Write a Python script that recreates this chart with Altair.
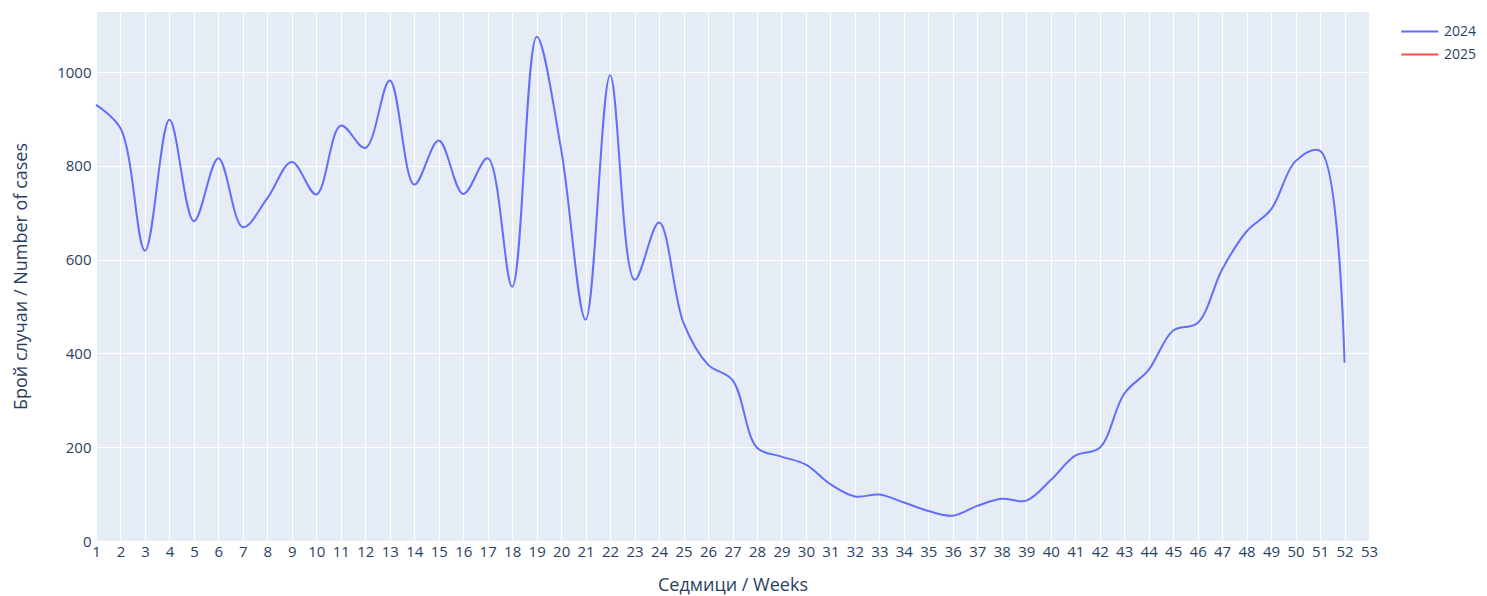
import altair as alt
import pandas as pd

weeks = list(range(1, 53))
cases_2024 = [930, 880, 619, 898, 682, 816, 669, 731, 808, 739,
              886, 838, 982, 760, 854, 740, 816, 542, 1075, 835,
              472, 993, 557, 679, 465, 376, 343, 199, 180, 163,
              121, 95, 99, 82, 64, 54, 75, 90, 86, 130,
              182, 199, 314, 365, 449, 465, 579, 660, 707, 810,
              832, 380]
series = ["2024", "2025"]
colors = ["#636EFA", "#EF553B"]
x_ticks = list(range(1, 54))
y_ticks = [0, 200, 400, 600, 800, 1000]

df = pd.DataFrame({"week": weeks, "cases": cases_2024, "year": ["2024"] * len(weeks)})

FONT = "Open Sans"
TXT = "#2a3f5f"

chart = alt.Chart(df).mark_line(interpolate="catmull-rom", strokeWidth=2).encode(
    x=alt.X("week:Q",
            scale=alt.Scale(domain=[1, 53], nice=False, zero=False),
            axis=alt.Axis(values=x_ticks, title="Седмици / Weeks", labelFlush=False,
                          labelOverlap=False, domain=False, ticks=False, labelPadding=3,
                          labelFontSize=15, titleFontSize=18, titleY=44, titleBaseline="middle",
                          gridColor="white", gridWidth=1)),
    y=alt.Y("cases:Q",
            scale=alt.Scale(domain=[0, 1128], nice=False),
            axis=alt.Axis(values=y_ticks, format="d", title="Брой случаи / Number of cases",
                          domain=False, ticks=False, labelPadding=5, labelFontSize=15,
                          titleFontSize=18, titleX=-75, titleY=264, titleBaseline="middle",
                          titleAlign="center", gridColor="white", gridWidth=1)),
    color=alt.Color("year:N", scale=alt.Scale(domain=series, range=colors),
                    legend=alt.Legend(title=None, orient="none", legendX=1304, legendY=9,
                                      symbolType="M-1,0L3,0", symbolSize=342, symbolStrokeWidth=2,
                                      labelFontSize=14, labelColor=TXT, labelFont=FONT,
                                      rowPadding=5, labelOffset=23)),
).properties(
    width=1273, height=529,
    autosize=alt.AutoSizeParams(type="none"),
    padding={"left": 88, "top": 4, "right": 110, "bottom": 55},
).configure_view(
    fill="#E5ECF6", stroke=None
).configure_axis(
    labelFont=FONT, titleFont=FONT, labelColor=TXT, titleColor=TXT, titleFontWeight="normal"
)

chart.save("out.html", embed_options={"renderer": "svg", "actions": False})
